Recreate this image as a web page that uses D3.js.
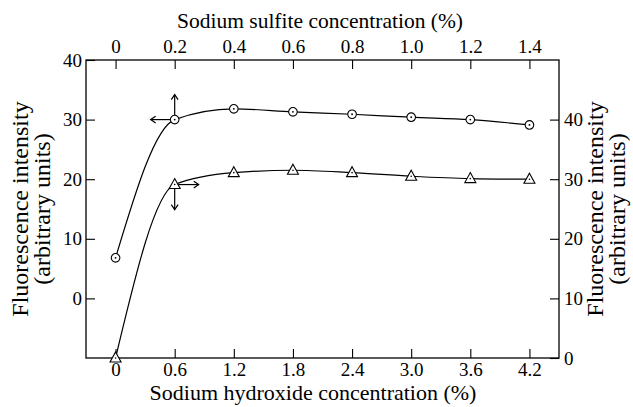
<!DOCTYPE html>
<html>
<head>
<meta charset="utf-8">
<script src="https://cdn.jsdelivr.net/npm/d3@7"></script>
<style>
  body { margin: 0; background: #fff; }
  svg text { font-family: "Liberation Serif", "Times New Roman", Times, "DejaVu Serif", serif; fill: #000; }
</style>
</head>
<body>
<div id="chart"></div>
<script>
  'use strict';

  // circles: sodium sulfite (top axis) vs left axis
  var sulfiteConc = [0, 0.2, 0.4, 0.6, 0.8, 1.0, 1.2, 1.4];
  var sulfiteFluor = [6.8, 30, 31.8, 31.3, 30.9, 30.4, 30.0, 29.1];

  // triangles: sodium hydroxide (bottom axis) vs right axis
  var naohConc = [0, 0.6, 1.2, 1.8, 2.4, 3.0, 3.6, 4.2];
  var naohFluor = [0, 29.1, 31.1, 31.5, 31.1, 30.5, 30.1, 30.0];

  var topTicks = [0, 0.2, 0.4, 0.6, 0.8, 1.0, 1.2, 1.4];
  var bottomTicks = [0, 0.6, 1.2, 1.8, 2.4, 3.0, 3.6, 4.2];
  var leftTicks = [0, 10, 20, 30, 40];
  var rightTicks = [0, 10, 20, 30, 40];

  var width = 633, height = 407;
  var margin = {left: 86, right: 74, top: 60, bottom: 49};
  var plotW = width - margin.left - margin.right;
  var plotH = height - margin.top - margin.bottom;

  var svg = d3.select('#chart').append('svg')
    .attr('width', width)
    .attr('height', height);

  var g = svg.append('g').attr('transform', 'translate(' + margin.left + ',' + margin.top + ')');

  var xBottom = d3.scaleLinear().domain([-0.3, 4.5]).range([0, plotW]);
  var xTop = d3.scaleLinear().domain([-0.1, 1.5]).range([0, plotW]);
  var yLeft = d3.scaleLinear().domain([-10, 40]).range([plotH, 0]);
  var yRight = d3.scaleLinear().domain([0, 50]).range([plotH, 0]);

  var fmt = function(d) { return d === 0 ? '0' : d3.format('.1f')(d); };
  var tickLen = 9;

  var axisStyle = function(sel) {
    sel.attr('font-family', null);
    sel.select('.domain').remove();
    sel.selectAll('line').attr('stroke', '#000').attr('stroke-width', 1.1);
    sel.selectAll('text').attr('font-size', 19);
  };

  g.append('g')
    .attr('transform', 'translate(0,' + plotH + ')')
    .call(d3.axisBottom(xBottom).tickValues(bottomTicks).tickFormat(fmt).tickSizeInner(-tickLen).tickSizeOuter(0).tickPadding(5))
    .call(axisStyle);

  g.append('g')
    .call(d3.axisTop(xTop).tickValues(topTicks).tickFormat(fmt).tickSizeInner(-tickLen).tickSizeOuter(0).tickPadding(7))
    .call(axisStyle);

  g.append('g')
    .call(d3.axisLeft(yLeft).tickValues(leftTicks).tickFormat(d3.format('d')).tickSizeInner(-tickLen).tickSizeOuter(0).tickPadding(4))
    .call(axisStyle);

  g.append('g')
    .attr('transform', 'translate(' + plotW + ',0)')
    .call(d3.axisRight(yRight).tickValues(rightTicks).tickFormat(d3.format('d')).tickSizeInner(-tickLen).tickSizeOuter(0).tickPadding(5))
    .call(axisStyle);

  // frame
  g.append('rect')
    .attr('width', plotW).attr('height', plotH)
    .attr('fill', 'none').attr('stroke', '#000').attr('stroke-width', 1.3);

  // curves
  var sulfitePts = sulfiteConc.map(function(c, i) { return [xTop(c), yLeft(sulfiteFluor[i])]; });
  var naohPts = naohConc.map(function(c, i) { return [xBottom(c), yRight(naohFluor[i])]; });

  var line = d3.line().curve(d3.curveMonotoneX);

  g.append('path').attr('d', line(sulfitePts))
    .attr('fill', 'none').attr('stroke', '#000').attr('stroke-width', 1.2);
  g.append('path').attr('d', line(naohPts))
    .attr('fill', 'none').attr('stroke', '#000').attr('stroke-width', 1.2);

  // arrows pointing to each curve's axes
  var arrow = function(x1, y1, x2, y2) {
    var ang = Math.atan2(y2 - y1, x2 - x1), h = 6, s = 0.6;
    g.append('line').attr('x1', x1).attr('y1', y1).attr('x2', x2).attr('y2', y2)
      .attr('stroke', '#000').attr('stroke-width', 1.2);
    g.append('path')
      .attr('d', 'M' + (x2 - h * Math.cos(ang - s)) + ',' + (y2 - h * Math.sin(ang - s)) +
        'L' + x2 + ',' + y2 +
        'L' + (x2 - h * Math.cos(ang + s)) + ',' + (y2 - h * Math.sin(ang + s)))
      .attr('fill', 'none').attr('stroke', '#000').attr('stroke-width', 1.2);
  };
  var cp = sulfitePts[1], tp = naohPts[1];
  arrow(cp[0], cp[1], cp[0] - 24, cp[1]);
  arrow(cp[0], cp[1], cp[0], cp[1] - 25);
  arrow(tp[0], tp[1], tp[0] + 24, tp[1]);
  arrow(tp[0], tp[1], tp[0], tp[1] + 25);

  // markers
  var circ = g.selectAll('.circ').data(sulfitePts).enter().append('g')
    .attr('transform', function(d) { return 'translate(' + d[0] + ',' + d[1] + ')'; });
  circ.append('circle').attr('r', 4.3).attr('fill', '#fff').attr('stroke', '#000').attr('stroke-width', 1.1);
  circ.append('circle').attr('r', 0.9).attr('fill', '#000');

  var tri = g.selectAll('.tri').data(naohPts).enter().append('g')
    .attr('transform', function(d) { return 'translate(' + d[0] + ',' + d[1] + ')'; });
  tri.append('path').attr('d', 'M0,-6L5.5,4L-5.5,4Z')
    .attr('fill', '#fff').attr('stroke', '#000').attr('stroke-width', 1.1);
  tri.append('circle').attr('r', 0.8).attr('fill', '#000');

  // axis titles
  svg.append('text').attr('x', 320).attr('y', 28)
    .attr('text-anchor', 'middle').attr('font-size', 21.5)
    .text('Sodium sulfite concentration (%)');
  svg.append('text').attr('x', 313).attr('y', 400)
    .attr('text-anchor', 'middle').attr('font-size', 22)
    .text('Sodium hydroxide concentration (%)');

  var yTitle = function(x, lines) {
    var t = svg.append('text')
      .attr('transform', 'translate(' + x + ',209) rotate(-90)')
      .attr('text-anchor', 'middle').attr('font-size', 24);
    t.selectAll('tspan').data(lines).enter().append('tspan')
      .attr('x', 0).attr('dy', function(d, i) { return i === 0 ? 0 : 22; })
      .text(function(d) { return d; });
  };
  yTitle(28, ['Fluorescence intensity', '(arbitrary units)']);
  yTitle(603, ['Fluorescence intensity', '(arbitrary units)']);
</script>
</body>
</html>
